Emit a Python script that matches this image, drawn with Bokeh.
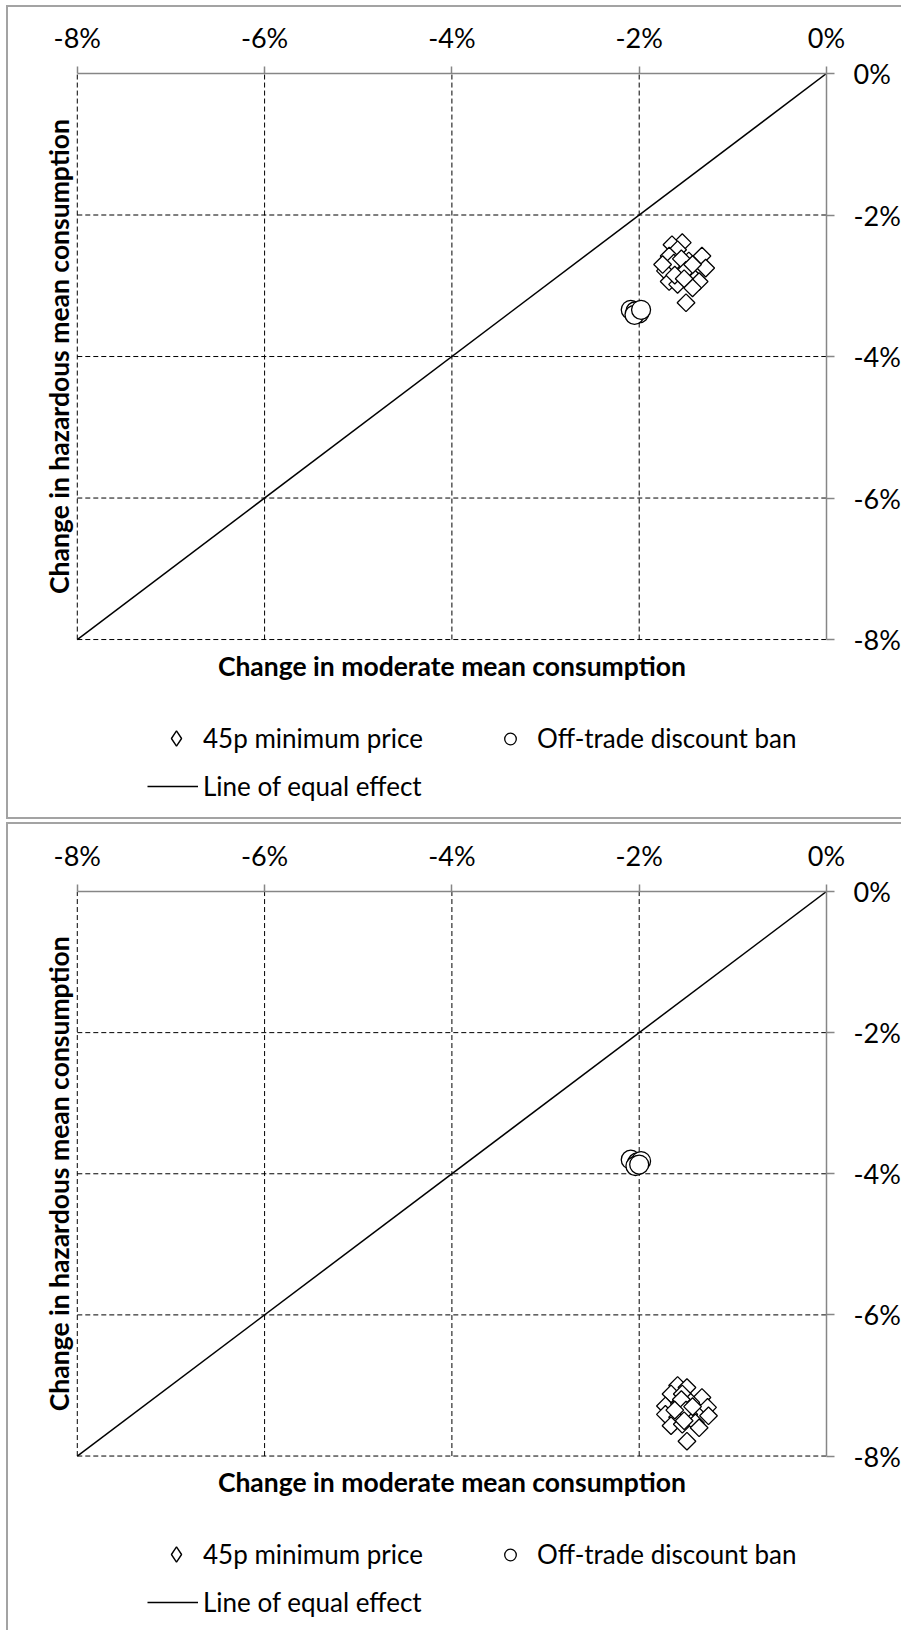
from bokeh.plotting import figure
from bokeh.models import (Range1d, LinearAxis, FixedTicker, PrintfTickFormatter,
                          Legend, LegendItem, Label)
from bokeh.layouts import column
from bokeh.embed import file_html
from bokeh.resources import INLINE

# ---------------- data ----------------
x_ticks = [-8, -6, -4, -2, 0]
y_ticks = [-8, -6, -4, -2, 0]
grid_ticks = [-8, -6, -4, -2]
x_title = "Change in moderate mean consumption"
y_title = "Change in hazardous mean consumption"
series_names = ["45p minimum price", "Off-trade discount ban", "Line of equal effect"]
equal_x = [-8, 0]
equal_y = [-8, 0]

# top panel
top_min_x = [-1.54, -1.65, -1.59, -1.33, -1.68, -1.47, -1.29, -1.72, -1.57, -1.47,
             -1.40, -1.68, -1.59, -1.36, -1.50, -1.63, -1.43, -1.75, -1.55, -1.50,
             -1.43, -1.62, -1.52]
top_min_y = [-2.39, -2.42, -2.49, -2.58, -2.58, -2.65, -2.75, -2.79, -2.75, -2.82,
             -2.91, -2.94, -2.98, -2.94, -3.24, -2.68, -3.03, -2.70, -2.62, -2.78,
             -2.70, -2.85, -2.90]
top_ban_x = [-2.09, -2.04, -2.00, -2.05, -1.98]
top_ban_y = [-3.34, -3.36, -3.39, -3.41, -3.34]

# bottom panel
bot_min_x = [-1.59, -1.49, -1.66, -1.54, -1.33, -1.72, -1.57, -1.45, -1.27, -1.72,
             -1.59, -1.47, -1.26, -1.66, -1.54, -1.40, -1.36, -1.49, -1.55, -1.50,
             -1.62, -1.43, -1.52]
bot_min_y = [-7.00, -7.03, -7.12, -7.12, -7.17, -7.29, -7.26, -7.24, -7.31, -7.41,
             -7.45, -7.41, -7.43, -7.57, -7.55, -7.53, -7.60, -7.79, -7.20, -7.35,
             -7.35, -7.30, -7.50]
bot_ban_x = [-2.09, -2.02, -1.98, -2.04, -2.00]
bot_ban_y = [-3.80, -3.84, -3.82, -3.89, -3.87]

# ---------------- style ----------------
FONT = "Lato"
AXIS_GRAY = "#868686"
BORDER_GRAY = "#a3a3a3"
FS_TICK = "27px"
FS_TITLE = "26.5px"
FS_LEG = "26px"
PLOT_W, PLOT_H = 752, 563     # pixel size of the -8%..0% square
EXTRA_LEFT = 59               # frame extends this far left of the -8% line
FIG_W = 895
MIN_LEFT, MIN_RIGHT = 10, 72
MIN_BOTTOM = 4
BW = 2                         # panel border width


def make_panel(mx, my, bx, by, height, min_top, n_borders_v, styles):
    content_h = height - n_borders_v * BW
    frame_h = content_h - min_top - MIN_BOTTOM
    px_y = PLOT_H / (max(y_ticks) - min(y_ticks))
    px_x = PLOT_W / (max(x_ticks) - min(x_ticks))
    y_start = max(y_ticks) - frame_h / px_y
    x_start = min(x_ticks) - EXTRA_LEFT / px_x
    frame_bottom_gap = frame_h - PLOT_H

    p = figure(width=FIG_W, height=height,
               x_range=Range1d(x_start, max(x_ticks)),
               y_range=Range1d(y_start, max(y_ticks)),
               x_axis_location=None, y_axis_location=None,
               toolbar_location=None, output_backend="svg",
               min_border_left=MIN_LEFT, min_border_right=MIN_RIGHT,
               min_border_top=min_top, min_border_bottom=MIN_BOTTOM)
    p.outline_line_color = None
    p.background_fill_color = "white"
    p.border_fill_color = "white"
    p.styles = styles
    p.grid.visible = False

    # dashed grid limited to the -8..0 square
    gs = dict(line_color="black", line_width=1, line_dash="5 3")
    p.segment(x0=grid_ticks, y0=[min(y_ticks)] * len(grid_ticks),
              x1=grid_ticks, y1=[max(y_ticks)] * len(grid_ticks), **gs)
    p.segment(x0=[min(x_ticks)] * len(grid_ticks), y0=grid_ticks,
              x1=[max(x_ticks)] * len(grid_ticks), y1=grid_ticks, **gs)

    def style_axis(a, tick_out, standoff):
        a.axis_line_color = AXIS_GRAY
        a.axis_line_width = 1.5
        a.major_tick_line_color = AXIS_GRAY
        a.major_tick_line_width = 1.5
        a.major_tick_out = tick_out
        a.major_tick_in = 0
        a.minor_tick_line_color = None
        a.major_label_text_font = FONT
        a.major_label_text_font_size = FS_TICK
        a.major_label_text_color = "black"
        a.major_label_standoff = standoff

    ax = LinearAxis(ticker=FixedTicker(ticks=x_ticks), bounds=(min(x_ticks), max(x_ticks)),
                    formatter=PrintfTickFormatter(format="%d%%"))
    style_axis(ax, 7, 13)
    p.add_layout(ax, "above")

    ay = LinearAxis(ticker=FixedTicker(ticks=y_ticks), bounds=(min(y_ticks), max(y_ticks)),
                    formatter=PrintfTickFormatter(format="%d%%"))
    style_axis(ay, 8, 19)
    p.add_layout(ay, "right")

    title_style = dict(text_align="center", text_baseline="middle", text_font=FONT,
                       text_font_size=FS_TITLE, text_font_style="bold", text_color="black")
    # x title below the square
    p.add_layout(Label(x=(min(x_ticks) + max(x_ticks)) / 2,
                       y=min(y_ticks) - 26 / px_y, text=x_title, **title_style))
    # y title left of the square
    p.add_layout(Label(x=min(x_ticks) - 18 / px_x,
                       y=(min(y_ticks) + max(y_ticks)) / 2,
                       angle=90, angle_units="deg", text=y_title, **title_style))

    r_line = p.line(equal_x, equal_y, line_color="black", line_width=1.5)
    r_ban = p.scatter(bx, by, marker="circle", size=19, fill_color="white",
                      line_color="black", line_width=1.3)
    p.scatter(mx, my, marker="square", angle=45, angle_units="deg",
              size=12.5, fill_color="white", line_color="black", line_width=1.3)
    # legend symbol for the diamonds (legend glyphs are not rotated)
    r_min_leg = p.scatter(mx, my, marker="diamond", fill_color="white",
                          line_color="black", line_width=1.4, visible=False)

    def add_legend(item, x_px, center_px, glyph_w, glyph_h, standoff):
        h = max(glyph_h, 32)
        lg = Legend(items=[item], orientation="horizontal",
                    location=(EXTRA_LEFT + x_px, frame_bottom_gap - center_px - h / 2))
        lg.border_line_color = None
        lg.background_fill_alpha = 0
        lg.padding = 0
        lg.margin = 0
        lg.label_text_font = FONT
        lg.label_text_font_size = FS_LEG
        lg.label_text_color = "black"
        lg.glyph_height = glyph_h
        lg.glyph_width = glyph_w
        lg.label_height = 32
        lg.label_standoff = standoff
        p.add_layout(lg, "center")

    add_legend(LegendItem(label=series_names[0], renderers=[r_min_leg]), 79, 98, 40, 38, 7)
    add_legend(LegendItem(label=series_names[1], renderers=[r_ban]), 413, 98, 40, 29, 7)
    add_legend(LegendItem(label=series_names[2], renderers=[r_line]), 70, 146, 51, 30, 5)
    return p


border = "%dpx solid %s" % (BW, BORDER_GRAY)
p1 = make_panel(top_min_x, top_min_y, top_ban_x, top_ban_y, 814, 66, 2,
                {"border-left": border, "border-top": border, "border-bottom": border})
p2 = make_panel(bot_min_x, bot_min_y, bot_ban_x, bot_ban_y, 808, 67, 1,
                {"border-left": border, "border-top": border})

layout = column(p1, p2, spacing=3, margin=(5, 0, 0, 6))
open("out.html", "w").write(file_html(layout, INLINE))
